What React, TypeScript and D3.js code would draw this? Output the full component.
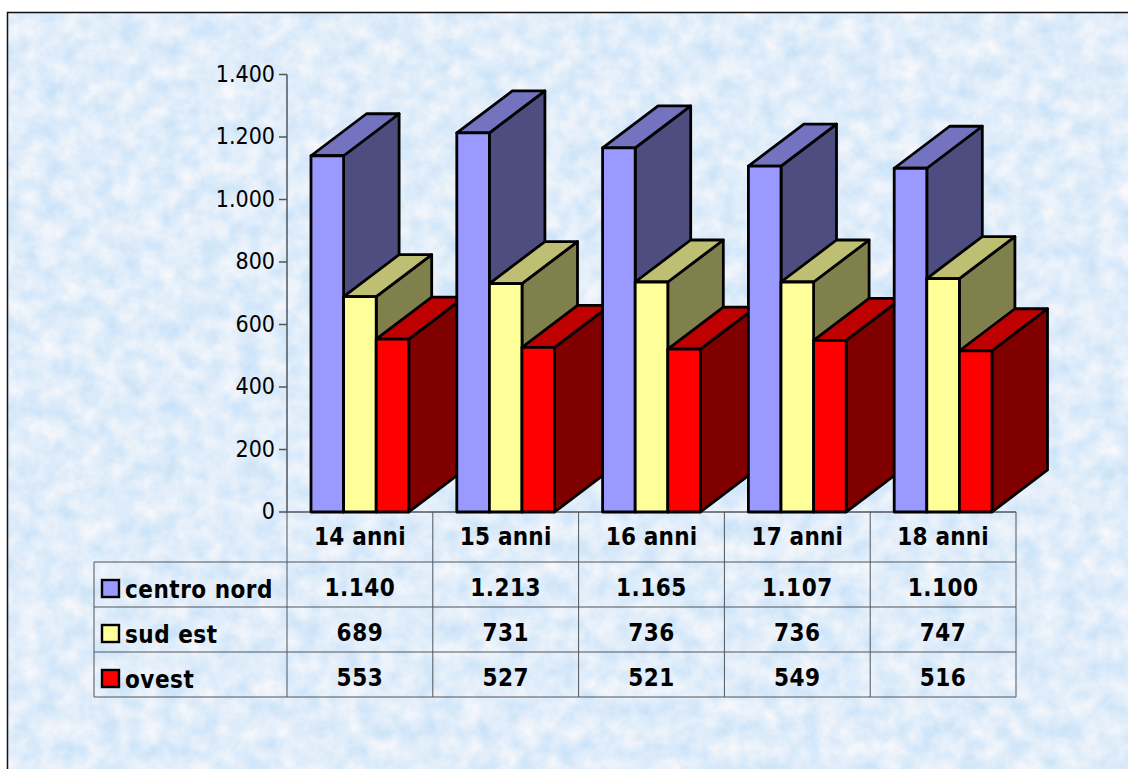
import React from "react";
import * as d3 from "d3";

const categories = ["14 anni", "15 anni", "16 anni", "17 anni", "18 anni"];
const seriesNames = ["centro nord", "sud est", "ovest"];
const centroNord = [1140, 1213, 1165, 1107, 1100];
const sudEst = [689, 731, 736, 736, 747];
const ovest = [553, 527, 521, 549, 516];
const seriesValues = [centroNord, sudEst, ovest];
const yTicks = [0, 200, 400, 600, 800, 1000, 1200, 1400];

const frontColors = ["#9999ff", "#ffff99", "#ff0000"];
const topColors = ["#7373bf", "#bfbf73", "#bf0000"];
const sideColors = ["#4d4d80", "#80804d", "#800000"];

const WIDTH = 1128;
const HEIGHT = 769;
const FONT = "'DejaVu Sans', Verdana, sans-serif";
const GRID = "#50555c";

// Oblique extrusion of every column
const DEPTH_X = 55.5;
const DEPTH_Y = -42;

const y = d3.scaleLinear().domain([0, 1400]).range([512, 74.5]);
const x0 = d3.scaleBand<string>().domain(categories).range([287, 1016]);
const x1 = d3
  .scaleBand<string>()
  .domain(seriesNames)
  .range([24, x0.bandwidth() - 24]);

const fmt = d3.formatLocale({
  decimal: ",",
  thousands: ".",
  grouping: [3],
  currency: ["€", ""],
}).format(",d");

const poly = d3.line();

const rowLines = [562, 607, 652, 697];
const labelBaselines = [598, 643, 688];
const valueBaselines = [596, 641, 686];
const swatchTops = [580, 625, 670];

function Column({ cat, s }: { cat: number; s: number }) {
  const left = x0(categories[cat])! + x1(seriesNames[s])!;
  const right = left + x1.bandwidth();
  const top = y(seriesValues[s][cat]);
  const bottom = y(0);
  const stroke = { stroke: "#000", strokeWidth: 2.8, strokeLinejoin: "round" as const };
  return (
    <g>
      <path
        d={poly([
          [right, top],
          [right + DEPTH_X, top + DEPTH_Y],
          [right + DEPTH_X, bottom + DEPTH_Y],
          [right, bottom],
        ])! + "Z"}
        fill={sideColors[s]}
        {...stroke}
      />
      <path
        d={poly([
          [left, top],
          [left + DEPTH_X, top + DEPTH_Y],
          [right + DEPTH_X, top + DEPTH_Y],
          [right, top],
        ])! + "Z"}
        fill={topColors[s]}
        {...stroke}
      />
      <rect
        x={left}
        y={top}
        width={right - left}
        height={bottom - top}
        fill={frontColors[s]}
        {...stroke}
      />
    </g>
  );
}

export default function App() {
  const cells = x0.domain().map((c) => x0(c)!);
  const verticals = [...cells, 1016];
  const condensed = { fontStretch: "condensed" as const };
  const bold = { ...condensed, letterSpacing: 0.5 };
  const header = { ...condensed, letterSpacing: 0.2 };
  return (
    <svg
      width={WIDTH}
      height={HEIGHT}
      viewBox={`0 0 ${WIDTH} ${HEIGHT}`}
      style={{ position: "absolute", left: 0, top: 0, display: "block" }}
      fontFamily={FONT}
    >
      <defs>
        <filter id="paper" x="0" y="0" width="100%" height="100%" colorInterpolationFilters="sRGB">
          <feTurbulence type="fractalNoise" baseFrequency="0.05" numOctaves={4} seed={11} />
          <feColorMatrix
            type="matrix"
            values="0.24 0 0 0 0.76
                    0.11 0 0 0 0.875
                    0.01 0 0 0 0.975
                    0 0 0 0 1"
          />
        </filter>
      </defs>

      <rect width={WIDTH} height={HEIGHT} fill="#fff" />
      <rect x={7} y={12} width={WIDTH} height={HEIGHT} filter="url(#paper)" />
      <path d={`M7.5 ${HEIGHT}V12.5H${WIDTH}`} fill="none" stroke="#111" strokeWidth={1.5} />

      {/* value axis */}
      <path d={`M287 ${y(1400)}V512H1016`} fill="none" stroke={GRID} strokeWidth={1.5} />
      {yTicks.map((t) => (
        <g key={t}>
          <line x1={279} x2={287} y1={y(t)} y2={y(t)} stroke={GRID} strokeWidth={1.5} />
          <text x={275} y={y(t) + 7} textAnchor="end" fontSize={23} fill="#000" style={condensed}>
            {fmt(t)}
          </text>
        </g>
      ))}

      {/* data table */}
      {rowLines.map((ly) => (
        <line key={ly} x1={94} x2={1016} y1={ly} y2={ly} stroke={GRID} strokeWidth={1} />
      ))}
      <line x1={94} x2={94} y1={562} y2={697} stroke={GRID} strokeWidth={1} />
      {verticals.map((vx) => (
        <line key={vx} x1={vx} x2={vx} y1={512} y2={697} stroke={GRID} strokeWidth={1} />
      ))}
      {categories.map((c) => (
        <text
          key={c}
          x={x0(c)! + x0.bandwidth() / 2}
          y={545}
          textAnchor="middle"
          fontSize={24}
          fontWeight="bold"
          style={header}
        >
          {c}
        </text>
      ))}
      {seriesNames.map((name, s) => (
        <g key={name}>
          <rect
            x={102}
            y={swatchTops[s]}
            width={17}
            height={17}
            fill={frontColors[s]}
            stroke="#000"
            strokeWidth={2.4}
          />
          <text x={125} y={labelBaselines[s]} fontSize={24} fontWeight="bold" style={bold}>
            {name}
          </text>
          {categories.map((c, ci) => (
            <text
              key={c}
              x={x0(c)! + x0.bandwidth() / 2}
              y={valueBaselines[s]}
              textAnchor="middle"
              fontSize={24}
              fontWeight="bold"
              style={bold}
            >
              {fmt(seriesValues[s][ci])}
            </text>
          ))}
        </g>
      ))}

      {/* columns, painted left to right so nearer faces overlap */}
      {categories.map((_, c) =>
        seriesNames.map((_n, s) => <Column key={`${c}-${s}`} cat={c} s={s} />)
      )}
    </svg>
  );
}
